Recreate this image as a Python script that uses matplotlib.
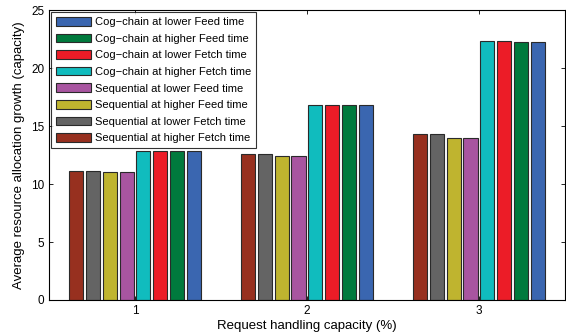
import numpy as np
import matplotlib
matplotlib.use('Agg')
import matplotlib.pyplot as plt

plt.rcParams['font.family'] = ['Liberation Sans', 'DejaVu Sans']

groups = [1, 2, 3]

series = [
	'Sequential at higher Fetch time',
	'Sequential at lower Fetch time',
	'Sequential at higher Feed time',
	'Sequential at lower Feed time',
	'Cog\u2212chain at higher Fetch time',
	'Cog\u2212chain at lower Fetch time',
	'Cog\u2212chain at higher Feed time',
	'Cog\u2212chain at lower Feed time',
]

seq_high_fetch = [11.15, 12.56, 14.34]
seq_low_fetch = [11.15, 12.58, 14.34]
seq_high_feed = [11.06, 12.39, 13.99]
seq_low_feed = [11.06, 12.39, 13.99]
cog_high_fetch = [12.82, 16.84, 22.36]
cog_low_fetch = [12.82, 16.84, 22.36]
cog_high_feed = [12.82, 16.78, 22.21]
cog_low_feed = [12.82, 16.78, 22.21]

values = [seq_high_fetch, seq_low_fetch, seq_high_feed, seq_low_feed,
	cog_high_fetch, cog_low_fetch, cog_high_feed, cog_low_feed]

colors = ['#97301F', '#646464', '#BFB42F', '#A855A0',
	'#10BCBE', '#EC1C27', '#007A3D', '#3A66B0']

fig = plt.figure(figsize=(5.66, 3.35), dpi=100)
ax = fig.add_axes([0.0866, 0.1045, 0.9114, 0.8655])

slot = 0.098
width = 0.082
x = np.array(groups, dtype=float)

handles = []
for i, (name, vals, c) in enumerate(zip(series, values, colors)):
	offs = (i - 3.5) * slot
	b = ax.bar(x + offs, vals, width, color=c, edgecolor='#2a2a2a', linewidth=0.8, label=name)
	handles.append(b)

ax.set_xlim(0.5, 3.5)
ax.set_ylim(0, 25)
ax.set_xticks(groups)
ax.set_yticks([0, 5, 10, 15, 20, 25])
ax.tick_params(direction='in', labelsize=8.5, top=True, right=True, length=3, width=0.6)
for s in ax.spines.values():
	s.set_linewidth(0.8)

ax.set_xlabel('Request handling capacity (%)', fontsize=9.5, labelpad=2)
ax.set_ylabel('Average resource allocation growth (capacity)', fontsize=9.5, labelpad=4)

leg = ax.legend(handles[::-1], series[::-1], loc='upper left', fontsize=8,
	frameon=True, fancybox=False, edgecolor='black', handlelength=3.1, handleheight=0.8,
	borderaxespad=0.2, labelspacing=0.58, handletextpad=0.4, borderpad=0.45)
leg.get_frame().set_linewidth(0.8)

fig.savefig('out.png', dpi=100)
